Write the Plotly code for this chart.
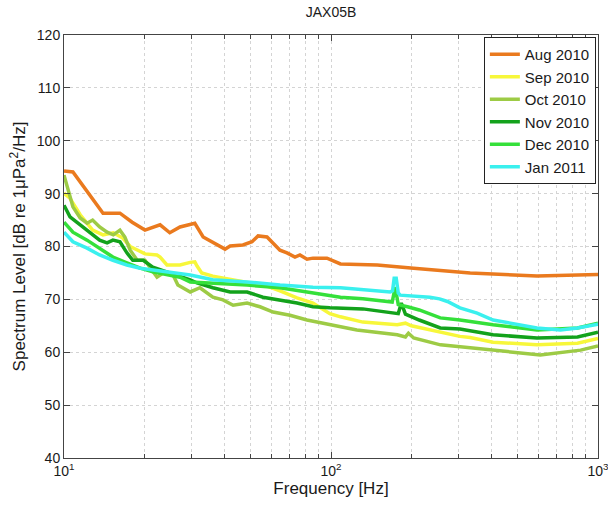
import plotly.graph_objects as go

# Monthly ambient noise spectra at site JAX05B (frequency in Hz, level in dB re 1 uPa^2/Hz)
aug_f = [10, 10.8, 14.0, 16.2, 18.0, 20.1, 22.9, 24.9, 27.2, 30.9, 33.2, 37.4, 40.1, 41.9,
         46.8, 50.6, 53.3, 57.6, 64.4, 68.4, 73.3, 76.5, 81.3, 85.6, 96.6, 108.5, 149, 204,
         332, 591, 1000]
aug_db = [94.3, 94.1, 86.3, 86.3, 84.6, 83.1, 84.1, 82.6, 83.7, 84.4, 81.8, 80.3, 79.5, 80.1,
          80.3, 80.9, 82.0, 81.8, 79.3, 78.8, 78.0, 78.4, 77.6, 77.8, 77.8, 76.7, 76.5, 75.9,
          75.0, 74.4, 74.7]

sep_f = [10, 10.5, 11.5, 12.8, 14.0, 15.3, 16.6, 17.7, 18.9, 20.1, 22.3, 22.9, 24.3, 27.2,
         29.7, 30.9, 31.5, 32.8, 36.1, 48.5, 57.6, 64.4, 74.6, 85.6, 99, 108.5, 131.6, 177,
         190, 200, 234.6, 304, 332, 404.6, 590.8, 838, 1000]
sep_db = [90.1, 89.2, 86.0, 83.1, 82.2, 82.6, 81.6, 80.0, 79.3, 78.6, 78.4, 78.0, 76.5, 76.5,
          77.0, 77.1, 76.3, 75.0, 74.4, 73.3, 72.5, 71.6, 70.3, 69.3, 67.3, 66.7, 65.7, 65.2,
          65.5, 65.0, 64.2, 63.0, 62.8, 61.9, 61.4, 61.7, 62.6]

oct_f = [10, 10.26, 10.8, 11.5, 12.2, 12.8, 13.6, 14.5, 15.3, 16.2, 16.9, 17.7, 18.8, 20.1,
         21.0, 22.3, 23.5, 25.4, 26.7, 28.9, 29.7, 32.3, 36.1, 39.4, 43.0, 48.5, 54.2, 60.7,
         70.2, 81.3, 99, 125, 177, 190, 195, 204, 257, 394, 608, 861, 1000]
oct_db = [93.5, 91.3, 87.5, 85.4, 84.4, 85.0, 83.7, 82.7, 82.2, 83.1, 81.8, 79.3, 77.4, 77.4,
          76.1, 74.2, 75.0, 75.0, 72.7, 71.8, 71.4, 72.2, 70.4, 69.9, 68.9, 69.3, 68.6, 67.6,
          67.0, 66.1, 65.2, 64.2, 63.3, 62.9, 63.6, 62.7, 61.4, 60.4, 59.5, 60.4, 61.2]

nov_f = [10, 10.53, 11.5, 12.5, 13.6, 14.5, 15.25, 16.2, 17.2, 18.1, 19.8, 21.5, 24.3, 27.2,
         29.7, 31.5, 36.1, 41.9, 48.5, 55.6, 64.4, 74.6, 85.6, 99, 131.6, 166.6, 178.6, 183.4,
         190, 214, 256.6, 304, 404.6, 590.8, 838, 1000]
nov_db = [87.8, 85.6, 84.1, 82.7, 81.2, 80.7, 81.2, 80.9, 78.8, 77.4, 77.4, 76.1, 75.2, 74.2,
          73.7, 73.1, 72.2, 71.4, 71.4, 70.4, 69.9, 69.3, 68.6, 68.4, 68.2, 67.6, 67.3, 69.3,
          67.2, 66.1, 64.6, 64.4, 63.3, 62.7, 62.9, 63.8]

dec_f = [10, 10.8, 12.2, 13.6, 15.25, 17.2, 19.3, 21.5, 24.3, 27.2, 29.7, 36.1, 48.5, 64.4,
         85.6, 108.5, 131.6, 166.6, 169.5, 174.0, 178.6, 193.4, 214, 256.6, 304, 404.6,
         590.8, 838, 1000]
dec_db = [84.6, 82.7, 81.2, 79.7, 78.0, 76.9, 75.9, 75.2, 74.6, 74.2, 73.3, 73.1, 72.7, 72.2,
          71.2, 70.4, 70.1, 69.5, 69.5, 72.3, 69.0, 68.6, 68.0, 66.5, 66.1, 65.2, 64.2, 64.6,
          65.5]

jan_f = [10, 10.8, 12.2, 13.6, 15.25, 17.2, 19.3, 21.5, 24.3, 27.2, 29.7, 36.1, 48.5, 64.4,
         85.6, 108.5, 131.6, 166.6, 170.0, 172.4, 175.5, 178.6, 181.7, 234.6, 255, 272.9, 304,
         352.6, 404.6, 468.6, 590.8, 723, 838, 1000]
jan_db = [82.7, 80.9, 79.7, 78.4, 77.4, 76.5, 75.9, 75.6, 75.2, 75.0, 74.6, 73.7, 73.3, 72.7,
          72.3, 72.2, 71.8, 71.4, 71.6, 74.0, 74.0, 71.2, 70.8, 70.4, 70.1, 69.6, 68.4,
          67.4, 66.1, 65.5, 64.6, 64.2, 64.6, 65.3]

series = [
    ("Aug 2010", aug_f, aug_db, "#EA7A1E"),
    ("Sep 2010", sep_f, sep_db, "#F7F73A"),
    ("Oct 2010", oct_f, oct_db, "#9DCB45"),
    ("Nov 2010", nov_f, nov_db, "#13A21B"),
    ("Dec 2010", dec_f, dec_db, "#35E03A"),
    ("Jan 2011", jan_f, jan_db, "#3AF0EE"),
]

x_major = [10, 100, 1000]
x_major_text = ["10<sup>1</sup>", "10<sup>2</sup>", "10<sup>3</sup>"]
x_minor = [20, 30, 40, 50, 60, 70, 80, 90, 200, 300, 400, 500, 600, 700, 800, 900]
y_ticks = [40, 50, 60, 70, 80, 90, 100, 110, 120]

fig = go.Figure()
for name, f, db, color in series:
    fig.add_trace(go.Scatter(x=f, y=db, name=name, mode="lines",
                             line=dict(color=color, width=3.5)))

font = dict(family="Arial, Liberation Sans, sans-serif", size=14, color="#1a1a1a")
grid = dict(gridcolor="#d4d4d4", griddash="dot", gridwidth=1)

fig.update_layout(
    width=608, height=506,
    margin=dict(l=64, r=10, t=35, b=48, autoexpand=False),
    paper_bgcolor="white", plot_bgcolor="white",
    font=font,
    title=dict(text="JAX05B", x=0.5, xref="paper", xanchor="center",
               y=1, yref="container", yanchor="top", pad=dict(t=7),
               font=dict(size=14, color="#1a1a1a")),
    legend=dict(x=0.996, y=0.995, xanchor="right", yanchor="top",
                bgcolor="white", bordercolor="#222", borderwidth=1,
                font=dict(size=15), tracegroupgap=0, itemwidth=30),
    showlegend=True,
)

fig.update_xaxes(
    type="log", range=[1, 3], automargin=False,
    tickvals=x_major, ticktext=x_major_text, ticklabeloverflow="allow",
    showline=True, linecolor="#444", linewidth=1, mirror="ticks",
    ticks="inside", ticklen=6, tickcolor="#444",
    showgrid=True, **grid,
    minor=dict(tickvals=x_minor, ticks="inside", ticklen=4, tickcolor="#444",
               showgrid=True, gridcolor="#d4d4d4", griddash="dot", gridwidth=1),
    title=dict(text="Frequency [Hz]", standoff=4),
    zeroline=False,
)
fig.update_yaxes(
    range=[40, 120], tickvals=y_ticks, automargin=False,
    showline=True, linecolor="#444", linewidth=1, mirror="ticks",
    ticks="inside", ticklen=6, tickcolor="#444",
    showgrid=True, **grid,
    title=dict(text="Spectrum Level [dB re 1\u03bcPa<sup>2</sup>/Hz]", standoff=6),
    zeroline=False,
)

fig.write_html("out.html")
